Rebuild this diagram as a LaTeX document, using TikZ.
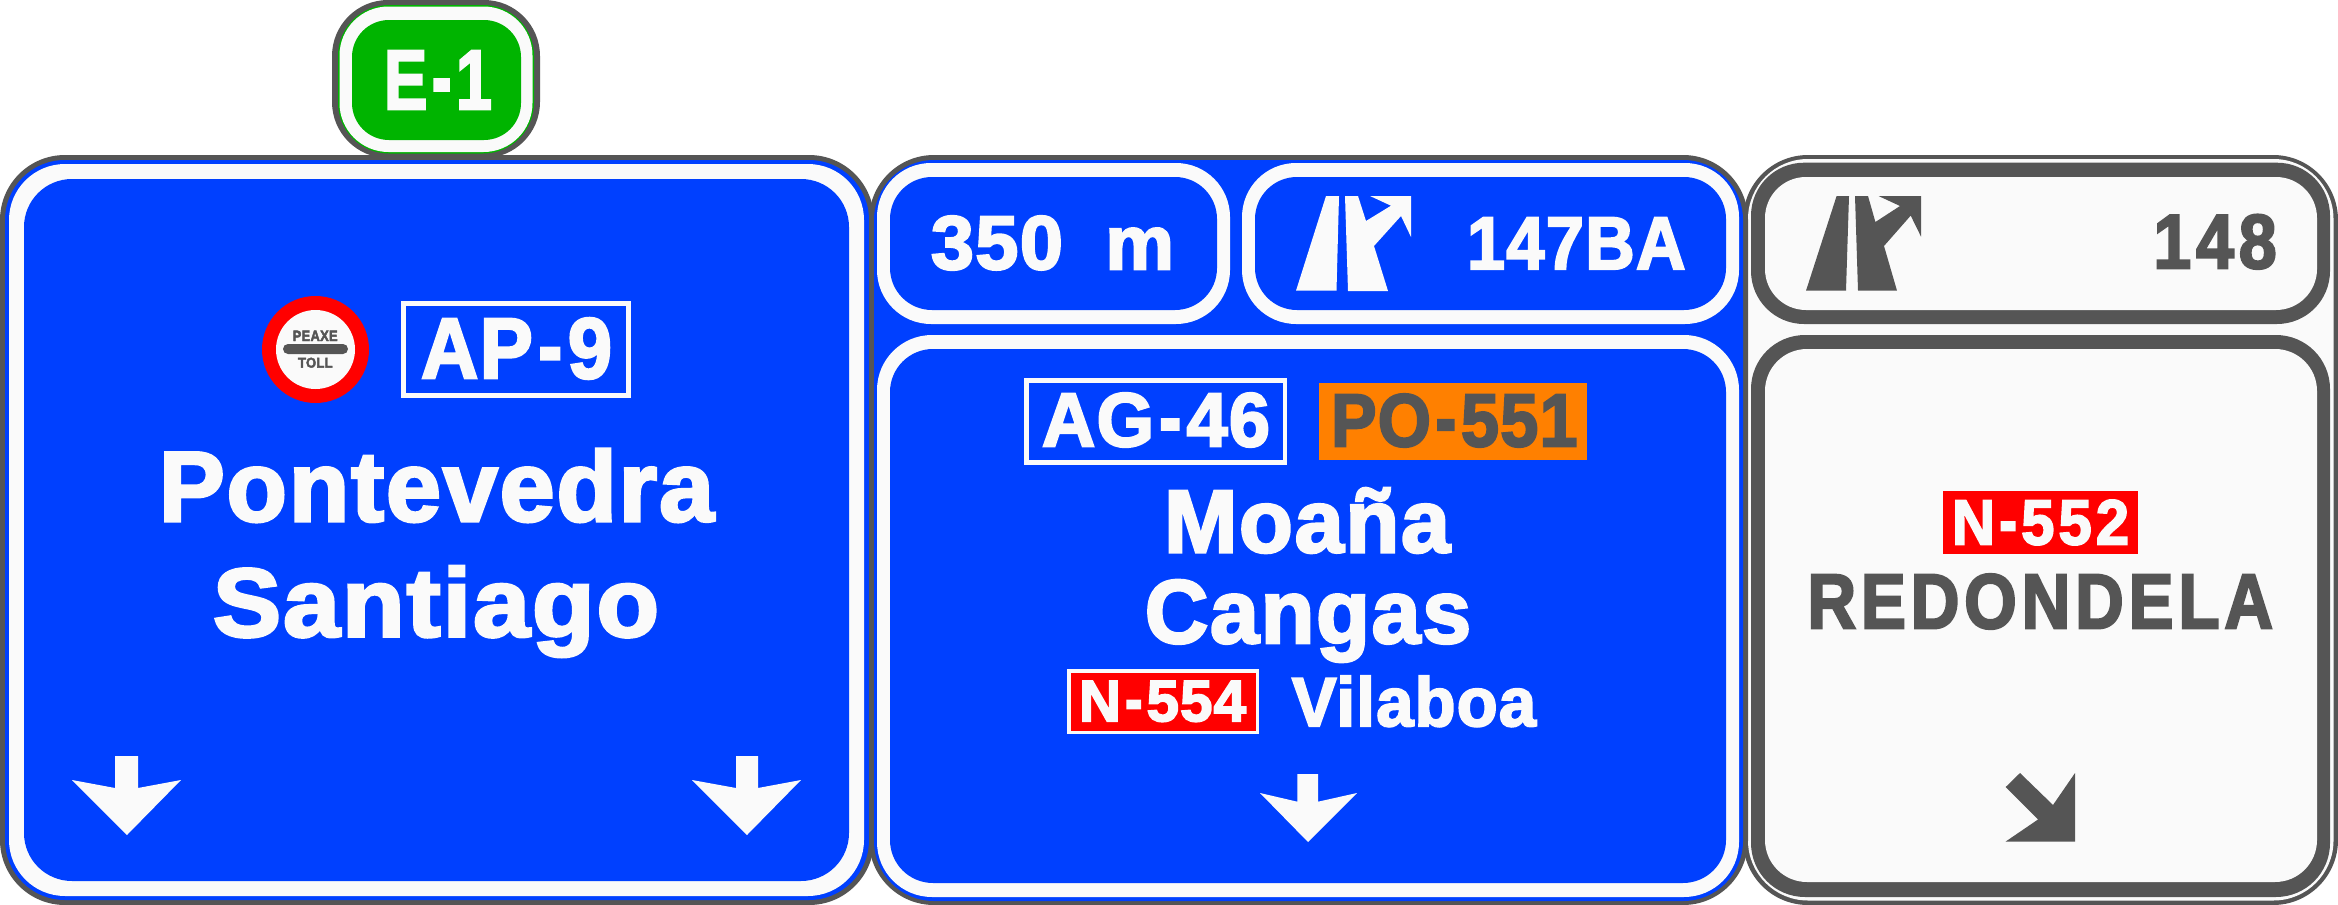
\documentclass[tikz,border=0pt]{standalone}
\usepackage{fontspec}
\usepackage{graphicx}
\newfontfamily\signf[UprightFont={* Bold},FakeBold=3,LetterSpace=2]{Liberation Sans}
\newfontfamily\signw[UprightFont={* Bold},FakeBold=3,LetterSpace=7]{Liberation Sans}
\newcommand\hy{\hspace{.07em}\scalebox{0.9}[1.1]{-}\hspace{.07em}}
\definecolor{sblue}{HTML}{0040FF}
\definecolor{swhite}{HTML}{FAFAFA}
\definecolor{sdark}{HTML}{555555}
\definecolor{sgreen}{HTML}{00B400}
\definecolor{sred}{HTML}{FF0000}
\definecolor{sorange}{HTML}{FF8000}
\tikzset{x=1pt,y=-1pt,
  signtext/.style={inner sep=0pt,outer sep=0pt,anchor=center}}
% rounded filled panel: colour, radius, x1,y1,x2,y2
\newcommand\rrpanel[6]{\fill[#1,rounded corners=#2pt] (#3,#4) rectangle (#5,#6);}
% text fitted in a box: name,colour,x1,y1,x2,y2,text
\newcommand\fittext[7]{\node[signtext,text=#2] (#1) at ({(#3+#5)/2},{(#4+#6)/2})
  {\resizebox*{\dimexpr#5pt-#3pt\relax}{\dimexpr#6pt-#4pt\relax}{\signf #7}};}
\begin{document}
\begin{tikzpicture}
\useasboundingbox (0,0) rectangle (2338,905);
\fill[white] (0,0) rectangle (2338,905);
% E-1 plate
\rrpanel{sdark}{56}{332}{0}{540}{158}
\rrpanel{sgreen}{51}{338}{5}{534}{153.5}
\rrpanel{swhite}{49}{339.5}{6.5}{532.5}{152}
\rrpanel{sgreen}{37}{352}{20}{521}{140}
\fittext{e1}{swhite}{384}{51}{492}{109}{E\hy 1}
% left sign
\rrpanel{sdark}{65}{0}{155}{874}{905}
\rrpanel{sblue}{60}{5}{160}{869}{900}
\rrpanel{swhite}{56}{9}{164}{864}{896}
\rrpanel{sblue}{48}{24}{179}{849}{881}
\fill[sred] (315.5,349.5) circle (53.5);
\fill[swhite] (315.5,349.5) circle (39.5);
\fill[sdark,rounded corners=5pt] (283,344) rectangle (348,354);
\fittext{peaxe}{sdark}{292.7}{330.7}{337.7}{341}{PEAXE}
\fittext{toll}{sdark}{298}{357.7}{332.7}{367.7}{TOLL}
\fill[swhite] (401,301) rectangle (631,398);
\fill[sblue] (406,305.7) rectangle (626,392.7);
\fittext{ap9}{swhite}{421}{318}{612}{379}{AP\hy 9}
\fittext{pontevedra}{swhite}{159}{449}{714}{522}{Pontevedra}
\fittext{santiago}{swhite}{213}{566}{659}{657}{Santiago}
\fill[swhite] (115,756) -- (138,756) -- (138,788) -- (181,780) -- (127,835) -- (72,780) -- (115,788) -- cycle;
\fill[swhite] (736,756) -- (758,756) -- (758,788) -- (801,780) -- (747,835) -- (692,780) -- (736,788) -- cycle;
% right sign
\rrpanel{sdark}{65}{1743}{155}{2338}{905}
\rrpanel{swhite}{60}{1748}{159}{2333.5}{900.5}
\rrpanel{sdark}{53}{1751}{162.7}{2330}{324}
\rrpanel{swhite}{41}{1765}{177}{2317}{310}
\rrpanel{sdark}{54}{1751}{335}{2330}{897}
\rrpanel{swhite}{42}{1765}{349}{2317}{882}
\fill[sdark] (1836.6,196) -- (1849,196) -- (1846,290.7) -- (1806,290.7) -- cycle;
\fill[sdark] (1855,196) -- (1868,196) -- (1875.4,222) -- (1900,206) -- (1878.5,196) -- (1921,196) -- (1921,236.6) -- (1910.7,215.6) -- (1884,246) -- (1897,290.7) -- (1858,290.7) -- cycle;
\fittext{n148}{sdark}{2153.4}{214.6}{2276.7}{269}{\signw 148}
\fill[sred] (1943,491) rectangle (2138,554);
\fittext{n552}{swhite}{1952}{500}{2129}{545}{\signw N\hy 552}
\fittext{redondela}{sdark}{1807.5}{574}{2273}{629}{\signw REDONDELA}
\fill[sdark] (2020,773) -- (2053,805) -- (2075,773) -- (2075,841.5) -- (2005.7,841.5) -- (2038,819.5) -- (2005.7,787) -- cycle;
% middle sign
\rrpanel{sdark}{65}{869}{155}{1748}{905}
\rrpanel{sblue}{60}{874}{160}{1743}{901}
\rrpanel{swhite}{54}{877}{163}{1230}{324}
\rrpanel{sblue}{42}{890}{177}{1217}{310}
\rrpanel{swhite}{54}{1242}{163}{1739}{324}
\rrpanel{sblue}{42}{1255}{177}{1726}{310}
\rrpanel{swhite}{55}{877}{335}{1739}{897}
\rrpanel{sblue}{43}{890}{349}{1726}{883}
\fittext{d350}{swhite}{931}{216}{1174}{270}{350\hspace{0.55em}m}
\fill[swhite] (1326,196) -- (1339,196) -- (1336.5,290.7) -- (1296,290.7) -- cycle;
\fill[swhite] (1345,196) -- (1358,196) -- (1366,221) -- (1391,205.7) -- (1370,196) -- (1411,196) -- (1411,237) -- (1401,216) -- (1374,246) -- (1388,291) -- (1348,291) -- cycle;
\fittext{n147}{swhite}{1467}{217.7}{1685.5}{269}{147BA}
\fill[swhite] (1024,378) rectangle (1287,465);
\fill[sblue] (1029,382.7) rectangle (1282.5,460);
\fittext{ag46}{swhite}{1042}{393}{1270}{447}{AG\hy 46}
\fill[sorange] (1319,382.7) rectangle (1587,460);
\fittext{po551}{sdark}{1331}{394}{1577.6}{447}{PO\hy 551}
\fittext{moana}{swhite}{1164}{488}{1450}{553}{Moaña}
\fittext{cangas}{swhite}{1145}{580}{1471}{662}{Cangas}
\fill[swhite] (1067,669) rectangle (1259,733.7);
\fill[sred] (1071,672.7) rectangle (1255.5,731);
\fittext{n554}{swhite}{1079}{681}{1246}{721.7}{N\hy 554}
\fittext{vilaboa}{swhite}{1292}{676}{1536}{726.7}{Vilaboa}
\fill[swhite] (1297.4,774) -- (1318,774) -- (1318,801.7) -- (1357,793) -- (1308,842) -- (1260,793) -- (1297.4,801.7) -- cycle;
\end{tikzpicture}
\end{document}
